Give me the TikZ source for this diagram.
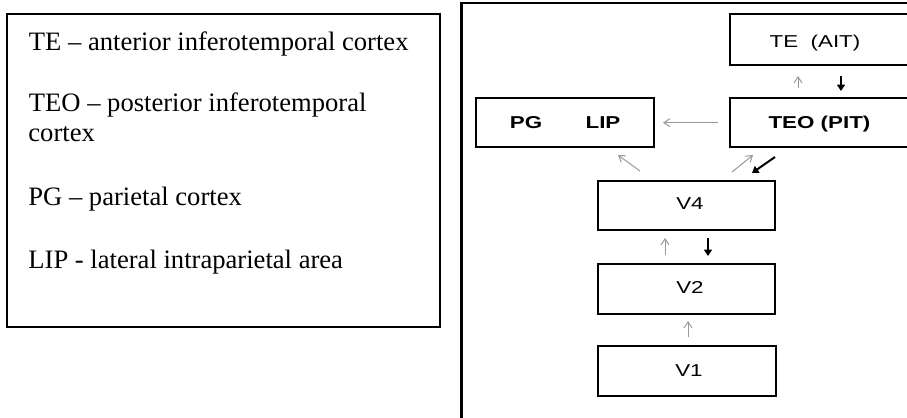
\documentclass[tikz,border=0pt]{standalone}
\usepackage{fontspec}
\setmainfont{Liberation Serif}
\newfontfamily\arialf{Liberation Sans}
\usetikzlibrary{arrows.meta}
\newcommand{\wlab}[1]{\scalebox{1.3}[1]{#1}}
\begin{document}
\begin{tikzpicture}[x=0.5pt,y=-0.5pt,
  legendbox/.style={draw, line width=1.3pt, inner sep=0pt, minimum width=216.5pt, minimum height=156.5pt},
  legtext/.style={anchor=base west, inner sep=0pt, font=\fontsize{13.3}{16}\selectfont},
  areabox/.style={draw, line width=1pt, inner sep=0pt, minimum width=89pt, minimum height=24.5pt},
  arealab/.style={anchor=base, inner sep=0pt, font=\arialf\fontsize{8.6}{10}\selectfont},
  grayarr/.style={draw=black!40, line width=0.5pt, -{Straight Barb[length=3pt,width=4pt]}},
  blackarr/.style={draw=black, line width=1pt, -{Triangle[length=3.2pt,width=4pt]}},
  framestyle/.style={draw, line width=1.3pt}]
\clip (0,0) rectangle (907,418);
\fill[white] (0,0) rectangle (907,418);

% legend
\node[legendbox] (legend) at (223.5,170.5) {};
\node[legtext] (l1) at (28.5,50.7) {TE -- anterior inferotemporal cortex};
\node[legtext] (l2) at (28.5,111.7) {TEO -- posterior inferotemporal};
\node[legtext] (l3) at (28,141.7) {cortex};
\node[legtext] (l4) at (28,205) {PG -- parietal cortex};
\node[legtext] (l5) at (28,268) {LIP - lateral intraparietal area};

% outer frame of diagram
\draw[framestyle] (912,3) -- (461.5,3) -- (461.5,422);

% boxes
\node[areabox, minimum height=25.5pt] (TE) at (819,39.5) {};
\node[areabox] (TEO) at (819,122.5) {};
\node[areabox] (PG) at (565,122.5) {};
\node[areabox, minimum width=88.5pt] (V4) at (686.5,205.5) {};
\node[areabox, minimum width=88.5pt, minimum height=25pt] (V2) at (686.5,289) {};
\node[areabox, minimum width=89pt, minimum height=25pt] (V1) at (687,371) {};

% labels
\node[arealab] (TEl) at (815,47.7) {\wlab{TE\ \ (AIT)}};
\node[arealab, font=\arialf\bfseries\fontsize{8.6}{10}\selectfont] (TEOl) at (819.5,128.3) {\wlab{TEO (PIT)}};
\node[arealab, font=\arialf\bfseries\fontsize{8.6}{10}\selectfont] (PGl) at (526,128.5) {\wlab{PG}};
\node[arealab, font=\arialf\bfseries\fontsize{8.6}{10}\selectfont] (LIPl) at (603,128.5) {\wlab{LIP}};
\node[arealab] (V4l) at (690,209) {\wlab{V4}};
\node[arealab] (V2l) at (690,293.5) {\wlab{V2}};
\node[arealab] (V1l) at (689,376.5) {\wlab{V1}};

% arrow end points
\coordinate (a1s) at (798,88);   \coordinate (a1e) at (798,76);
\coordinate (a2s) at (841,76);   \coordinate (a2e) at (841,91);
\coordinate (a3s) at (718,122.7); \coordinate (a3e) at (663,122.7);
\coordinate (a4s) at (640,171);  \coordinate (a4e) at (618,155);
\coordinate (a5s) at (732,172);  \coordinate (a5e) at (753,155);
\coordinate (a6s) at (775,157);  \coordinate (a6e) at (752,173);
\coordinate (a7s) at (665,255);  \coordinate (a7e) at (665,238);
\coordinate (a8s) at (708,238);  \coordinate (a8e) at (708,256);
\coordinate (a9s) at (688,337);  \coordinate (a9e) at (688,321);

% connectors
\draw[grayarr] (a1s) -- (a1e);
\draw[blackarr] (a2s) -- (a2e);
\draw[grayarr] (a3s) -- (a3e);
\draw[grayarr] (a4s) -- (a4e);
\draw[grayarr] (a5s) -- (a5e);
\draw[blackarr] (a6s) -- (a6e);
\draw[grayarr] (a7s) -- (a7e);
\draw[blackarr] (a8s) -- (a8e);
\draw[grayarr] (a9s) -- (a9e);
\end{tikzpicture}
\end{document}
